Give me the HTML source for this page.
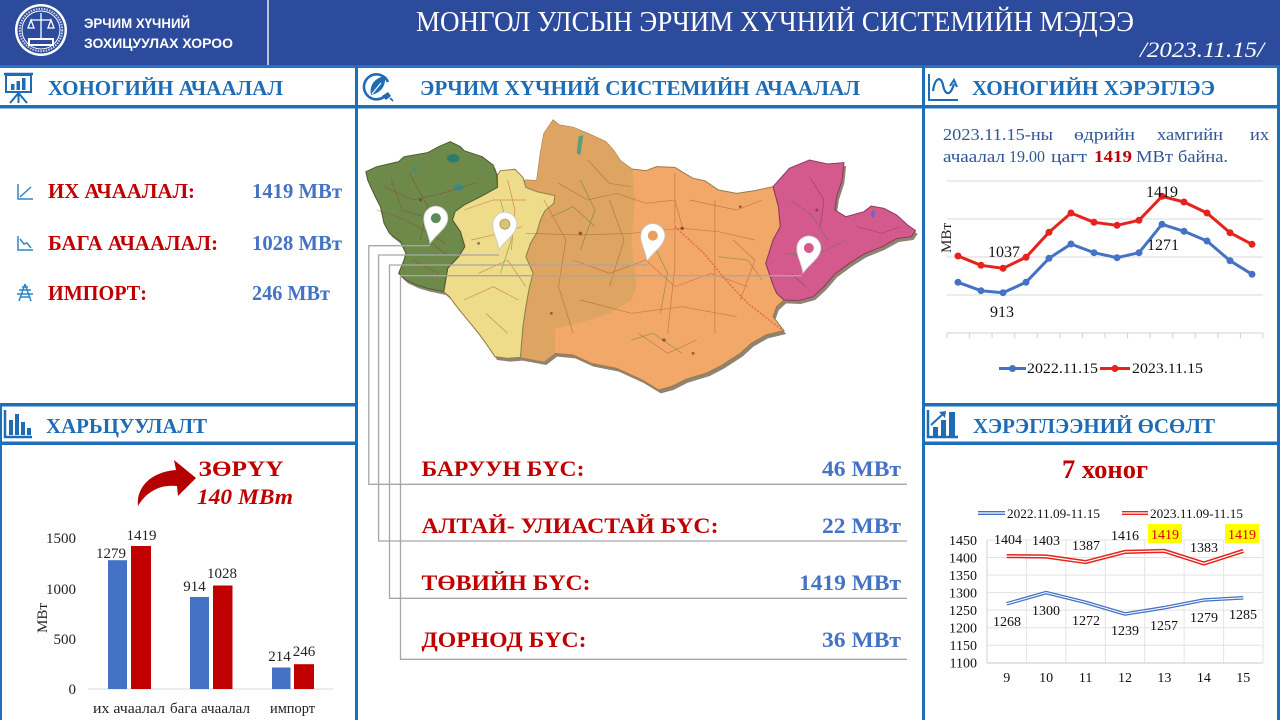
<!DOCTYPE html>
<html><head><meta charset="utf-8">
<style>
html,body{margin:0;padding:0;background:#fff;}
svg{display:block;}
text{font-family:"Liberation Serif","DejaVu Serif",serif;}
.sans{font-family:"Liberation Sans","DejaVu Sans",sans-serif;}
</style></head><body>
<svg width="1280" height="720" viewBox="0 0 1280 720" xmlns="http://www.w3.org/2000/svg">
<rect width="1280" height="720" fill="#ffffff"/>

<!-- HEADER -->
<rect x="0" y="0" width="1280" height="65" fill="#2D4B9D"/>
<rect x="0" y="65" width="1280" height="3" fill="#2C72C2"/>
<line x1="268" y1="0" x2="268" y2="65" stroke="#E6EAF4" stroke-width="1.5"/>
<!-- logo -->
<circle cx="41" cy="30" r="26" fill="#ffffff"/>
<circle cx="41" cy="30" r="23.5" fill="#2D4B9D"/>
<circle cx="41" cy="30" r="19" fill="none" stroke="#ffffff" stroke-width="1"/>
<circle cx="41" cy="30" r="21.2" fill="none" stroke="#cfd6ea" stroke-width="2" stroke-dasharray="1.5 1.2"/>
<g stroke="#ffffff" stroke-width="1.3" fill="none">
<line x1="41" y1="13" x2="41" y2="40"/>
<line x1="31" y1="20" x2="51" y2="20"/>
<path d="M31,20 L28,28 L34,28 Z M51,20 L48,28 L54,28 Z"/>
</g>
<rect x="28" y="38" width="26" height="8" fill="#ffffff"/>
<rect x="30" y="40" width="22" height="4" fill="#2D4B9D"/>
<text class="sans" x="84" y="28" font-size="14" font-weight="bold" fill="#fff" textLength="106" lengthAdjust="spacingAndGlyphs">ЭРЧИМ ХҮЧНИЙ</text>
<text class="sans" x="84" y="48" font-size="14" font-weight="bold" fill="#fff" textLength="149" lengthAdjust="spacingAndGlyphs">ЗОХИЦУУЛАХ ХОРОО</text>
<text x="416" y="31" font-size="28" fill="#fff" textLength="718" lengthAdjust="spacingAndGlyphs">МОНГОЛ УЛСЫН ЭРЧИМ ХҮЧНИЙ СИСТЕМИЙН МЭДЭЭ</text>
<text x="1140" y="57" font-size="22" font-style="italic" fill="#fff" textLength="124" lengthAdjust="spacingAndGlyphs">/2023.11.15/</text>

<!-- FRAME LINES -->
<rect x="0" y="105" width="1280" height="3.5" fill="#1E6FBA"/>
<rect x="355" y="65" width="3" height="655" fill="#1E6FBA"/>
<rect x="922" y="65" width="3" height="655" fill="#1E6FBA"/>
<rect x="1277" y="65" width="3" height="655" fill="#1E6FBA"/>
<rect x="0" y="403" width="357" height="3.5" fill="#1E6FBA"/>
<rect x="0" y="441.5" width="357" height="3.5" fill="#1E6FBA"/>
<rect x="922" y="403" width="358" height="3.5" fill="#1E6FBA"/>
<rect x="922" y="441.5" width="358" height="3.5" fill="#1E6FBA"/>
<rect x="0" y="403" width="2" height="317" fill="#1E6FBA"/>

<!-- SECTION TITLES -->
<g font-weight="bold" fill="#1E6CB5" font-size="21">
<text x="48" y="95" textLength="235" lengthAdjust="spacingAndGlyphs">ХОНОГИЙН  АЧААЛАЛ</text>
<text x="420" y="95" textLength="440" lengthAdjust="spacingAndGlyphs">ЭРЧИМ ХҮЧНИЙ  СИСТЕМИЙН  АЧААЛАЛ</text>
<text x="972" y="95" textLength="243" lengthAdjust="spacingAndGlyphs">ХОНОГИЙН  ХЭРЭГЛЭЭ</text>
<text x="46" y="433" textLength="161" lengthAdjust="spacingAndGlyphs">ХАРЬЦУУЛАЛТ</text>
<text x="973" y="433" textLength="242" lengthAdjust="spacingAndGlyphs">ХЭРЭГЛЭЭНИЙ ӨСӨЛТ</text>
</g>

<!-- ICONS in headers -->
<g stroke="#1E6CB5" fill="none" stroke-width="2">
<rect x="6" y="75" width="25" height="17"/>
<line x1="4" y1="74" x2="33" y2="74" stroke-width="2.5"/>
<line x1="18.5" y1="92" x2="18.5" y2="103"/>
<line x1="18.5" y1="93" x2="10" y2="103"/>
<line x1="18.5" y1="93" x2="27" y2="103"/>
</g>
<g fill="#1E6CB5">
<rect x="11" y="84" width="3.5" height="6"/><rect x="16.5" y="81" width="3.5" height="9"/><rect x="22" y="78" width="3.5" height="12"/>
</g>
<!-- middle icon -->
<g stroke="#1E6CB5" fill="none" stroke-width="2.6">
<path d="M385,96 A12.5,12.5 0 1 1 388,82"/>
</g>
<path d="M371,95 C369,86 374,78 385,76 C386,86 381,93 371,95 Z" fill="#1E6CB5"/>
<path d="M372,94 L381,83" stroke="#fff" stroke-width="1.2"/>
<path d="M382,96 L388,92 L391,96 L386,100 Z" fill="#1E6CB5"/>
<line x1="390" y1="98" x2="393" y2="101" stroke="#1E6CB5" stroke-width="1.6"/>
<!-- right icon -->
<path d="M929,74 V100 H958" stroke="#1E6CB5" stroke-width="2" fill="none"/>
<path d="M933,91 C935,77 941,76 943,85 C945,95 950,97 954,84" stroke="#1E6CB5" stroke-width="2.2" fill="none"/>
<path d="M950,86 L954,80 L957,87" stroke="#1E6CB5" stroke-width="2" fill="none"/>
<!-- lower-left icon -->
<path d="M5,410 V437 H32" stroke="#1E6CB5" stroke-width="2.5" fill="none"/>
<g fill="#1E6CB5"><rect x="9" y="420" width="4" height="15"/><rect x="15" y="414" width="4" height="21"/><rect x="21" y="422" width="4" height="13"/><rect x="27" y="428" width="4" height="7"/></g>
<!-- lower-right icon -->
<path d="M928,410 V437 H958" stroke="#1E6CB5" stroke-width="2.5" fill="none"/>
<g fill="#1E6CB5"><rect x="933" y="427" width="5" height="9"/><rect x="941" y="420" width="5" height="16"/><rect x="949" y="412" width="6" height="24"/></g>
<path d="M931,425 L944,413" stroke="#1E6CB5" stroke-width="2" fill="none"/>
<path d="M939,412 L946,411 L945,418 Z" fill="#1E6CB5"/>

<!-- LEFT TOP PANEL -->
<g stroke="#2E86C8" fill="none" stroke-width="1.5">
<path d="M18,184 V199 H33"/><path d="M20,197 L31,187"/>
<path d="M18,236 V250 H33"/><path d="M20,239 L24,244 L27,243 L31,248"/>
<path d="M25,284 L19,301 M25,284 L31,301 M19,290 H31 M17,294 H33 M21,297 H29 M22,287 H28"/>
</g>
<g font-weight="bold" font-size="21" fill="#C00000">
<text x="48" y="198" textLength="147" lengthAdjust="spacingAndGlyphs">ИХ АЧААЛАЛ:</text>
<text x="48" y="250" textLength="170" lengthAdjust="spacingAndGlyphs">БАГА АЧААЛАЛ:</text>
<text x="48" y="300" textLength="99" lengthAdjust="spacingAndGlyphs">ИМПОРТ:</text>
</g>
<g font-weight="bold" font-size="21" fill="#4472C4">
<text x="252" y="198" textLength="90" lengthAdjust="spacingAndGlyphs">1419 МВт</text>
<text x="252" y="250" textLength="90" lengthAdjust="spacingAndGlyphs">1028 МВт</text>
<text x="252" y="300" textLength="78" lengthAdjust="spacingAndGlyphs">246 МВт</text>
</g>

<!-- LEFT BOTTOM: bar chart -->
<path d="M138,506 C136,488 150,472 176,470 L174,460 L196,478 L178,496 L177,486 C160,484 146,492 138,506 Z" fill="#B50000"/>
<text x="241" y="476" font-size="22" font-weight="bold" fill="#C00000" text-anchor="middle" textLength="85" lengthAdjust="spacingAndGlyphs">ЗӨРҮҮ</text>
<text x="245" y="504" font-size="22" font-weight="bold" font-style="italic" fill="#C00000" text-anchor="middle" textLength="96" lengthAdjust="spacingAndGlyphs">140 МВт</text>
<g font-size="15" fill="#222" text-anchor="end">
<text x="76" y="543">1500</text>
<text x="76" y="594">1000</text>
<text x="76" y="644">500</text>
<text x="76" y="694">0</text>
</g>
<text transform="translate(47,618) rotate(-90)" font-size="15" fill="#222" text-anchor="middle">МВт</text>
<line x1="88" y1="689" x2="333" y2="689" stroke="#D9D9D9" stroke-width="1"/>
<g fill="#4472C4">
<rect x="108" y="560.2" width="19" height="128.8"/>
<rect x="190" y="597" width="19" height="92"/>
<rect x="272" y="667.5" width="18.5" height="21.5"/>
</g>
<g fill="#C00000">
<rect x="131" y="546" width="20" height="143"/>
<rect x="213" y="585.5" width="19.5" height="103.5"/>
<rect x="294" y="664.2" width="20" height="24.8"/>
</g>
<g font-size="15" fill="#222" text-anchor="middle">
<text x="111" y="558">1279</text>
<text x="141.5" y="540">1419</text>
<text x="194.5" y="591">914</text>
<text x="222" y="578">1028</text>
<text x="279.5" y="661">214</text>
<text x="304" y="656">246</text>
<text x="129" y="713" textLength="72" lengthAdjust="spacingAndGlyphs">их  ачаалал</text>
<text x="210" y="713" textLength="80" lengthAdjust="spacingAndGlyphs">бага ачаалал</text>
<text x="292.5" y="713" textLength="45" lengthAdjust="spacingAndGlyphs">импорт</text>
</g>

<!-- MAP -->
<svg x="355" y="100" width="570" height="310" viewBox="0 0 1568 930" preserveAspectRatio="none">
<g transform="translate(6,10)" fill="#6B5A42" opacity="0.75">
<polygon points="30,215 60,200 120,185 135,170 200,158 230,140 262,125 290,140 300,152 350,170 380,195 390,225 400,212 440,208 462,232 470,240 500,242 510,160 520,100 545,60 562,75 600,82 640,100 690,125 712,152 730,182 762,207 800,212 830,200 880,202 902,217 930,235 962,242 1000,270 1050,280 1100,272 1150,260 1195,205 1250,180 1300,192 1345,188 1340,240 1325,290 1320,330 1350,350 1400,335 1420,318 1455,325 1490,345 1520,375 1542,392 1530,410 1490,416 1450,440 1400,462 1360,490 1320,522 1290,560 1260,590 1220,602 1180,600 1160,620 1150,650 1180,692 1130,705 1090,730 1060,760 1010,795 970,818 910,838 870,860 835,870 790,840 720,805 650,790 600,765 550,760 520,785 455,772 420,775 385,770 360,730 340,700 310,660 280,620 260,590 244,575 200,565 170,555 140,540 120,520 135,480 140,460 125,425 95,400 80,370 70,320 58,295 45,265 35,240"/>
</g>
<polygon fill="#F2A868" stroke="#9C7A4E" stroke-width="3" points="455,255 470,240 500,242 510,160 520,100 545,60 562,75 600,82 640,100 690,125 712,152 730,182 762,207 800,212 830,200 880,202 902,217 930,235 962,242 1000,270 1050,280 1100,272 1150,260 1165,320 1170,380 1150,420 1130,490 1150,555 1160,580 1180,600 1160,620 1150,650 1180,692 1130,705 1090,730 1060,760 1010,795 970,818 910,838 870,860 835,870 790,840 720,805 650,790 600,765 550,760 520,785 455,772 462,680 470,620 480,560 490,520 470,470 482,432 500,398 510,360 522,333 547,310 550,287 500,275 470,262"/>
<polygon fill="#DDA462" points="455,255 470,240 500,242 510,160 520,100 545,60 562,75 600,82 640,100 690,125 712,152 730,182 762,207 770,300 760,430 775,560 760,600 700,640 620,668 550,685 550,760 520,785 455,772 462,680 470,620 480,560 490,520 470,470 482,432 500,398 510,360 522,333 547,310 550,287 500,275 470,262"/>
<polygon fill="#EEDC8A" stroke="#8E8350" stroke-width="3" points="392,225 400,212 440,208 462,232 470,262 500,275 550,287 547,310 522,333 510,360 500,398 482,432 470,470 490,520 480,560 470,620 462,680 455,772 420,775 385,770 360,730 340,700 310,660 280,620 260,590 244,575 255,505 285,470 302,440 290,395 268,360 275,335 300,315 345,290 392,262"/>
<polygon fill="#6E8A4B" stroke="#4C5E33" stroke-width="3" points="30,215 60,200 120,185 135,170 200,158 230,140 262,125 290,140 300,152 350,170 380,195 390,225 392,262 345,290 300,315 275,335 268,360 290,395 302,440 285,470 255,505 244,575 200,565 170,555 140,540 120,520 135,480 140,460 125,425 95,400 80,370 70,320 58,295 45,265 35,240"/>
<polygon fill="#D45A8E" stroke="#8E3A5E" stroke-width="3" points="1150,260 1195,205 1250,180 1300,192 1345,188 1340,240 1325,290 1320,330 1350,350 1400,335 1420,318 1455,325 1490,345 1520,375 1542,392 1530,410 1490,416 1450,440 1400,462 1360,490 1320,522 1290,560 1260,590 1220,602 1180,600 1160,580 1150,555 1130,490 1150,420 1170,380 1165,320"/>
<!-- lakes -->
<ellipse cx="270" cy="175" rx="17" ry="13" fill="#2F7B6A"/>
<ellipse cx="285" cy="262" rx="13" ry="10" fill="#3B8E86"/>
<ellipse cx="165" cy="210" rx="8" ry="5" fill="#3B8E86"/>
<path d="M615,110 L628,105 L620,165 L610,160 Z" fill="#5E9C7E"/>
<ellipse cx="1425" cy="342" rx="6" ry="10" fill="#6A6AC0"/>
<!-- roads texture -->
<g fill="none" stroke-width="2" opacity="0.55">
<path d="M80,260 L160,300 L240,280 L330,250 M150,220 L200,320 L180,420 M60,330 L140,360 L250,430 M100,240 L130,330 L220,360 M200,420 L260,470 M160,480 L230,520" stroke="#8B3A2A"/>
<path d="M300,330 L380,300 L470,300 M320,420 L400,400 L460,380 M340,520 L420,480 L470,560 M300,600 L380,560 L450,600 M420,240 L440,330 L430,450 M360,640 L420,700" stroke="#B24A2A"/>
<path d="M470,400 L620,405 L760,400 L900,385 L1000,395 L1100,420 M560,250 L640,300 L720,280 L800,310 L880,300 L900,380 M600,480 L700,520 L800,480 L880,560 L980,520 L1080,560 M700,300 L740,420 L700,560 M880,220 L880,500 L860,700 M990,300 L990,700 M620,600 L760,640 L900,620 L1050,650 M520,300 L580,420 L560,560 L600,700 M640,180 L700,250 L760,260 M920,300 L1050,330 L1120,300 M780,700 L860,760 L940,720 M1040,420 L1100,480 L1060,600" stroke="#A8512E"/>
<path d="M880,380 L960,460 L1020,540 L1080,610 L1175,690" stroke="#D83A20" stroke-width="4" stroke-dasharray="6 4"/>
<path d="M540,350 L600,320 L660,380 M760,720 L820,700 L900,760 M1200,300 L1260,350 L1300,420 M1180,460 L1260,470 L1350,420 M400,300 L430,420 L400,520 M620,240 L660,330 L620,450 M820,430 L860,520 L840,640 M1000,470 L1080,480 L1120,540" stroke="#3F7A3A"/>
<path d="M1250,230 L1290,300 L1280,380 M1380,380 L1450,400 L1500,380 M1200,520 L1240,560" stroke="#7A2A4A"/>
</g>
<g fill="#5a2a1a" opacity="0.6">
<circle cx="620" cy="400" r="5"/><circle cx="900" cy="385" r="5"/><circle cx="850" cy="720" r="5"/><circle cx="1060" cy="320" r="4"/><circle cx="1270" cy="330" r="4"/><circle cx="340" cy="430" r="4"/><circle cx="180" cy="300" r="4"/><circle cx="540" cy="640" r="4"/><circle cx="930" cy="760" r="4"/>
</g>
</svg>

<!-- connector lines -->
<g fill="none" stroke="#A6A6A6" stroke-width="1.3">
<path d="M430,245.7 H368.8 V484.3 H907"/>
<path d="M499,255 H378.6 V541 H907"/>
<path d="M647,265 H389.5 V598.3 H907"/>
<path d="M802,275.7 H400.5 V659.3 H907"/>
</g>

<!-- pins -->
<g stroke="#C8C8C8" stroke-width="0.8">
<g transform="rotate(13,430,243.5)">
<path d="M430,243.5 C426,233 418,226.5 418,217.5 A12,12 0 1 1 442,217.5 C442,226.5 434,233 430,243.5 Z" fill="#FFFFFF"/>
<circle cx="430" cy="217.5" r="5" fill="#5E8A5A" stroke="none"/>
</g>
<g transform="rotate(13,499,249.5)">
<path d="M499,249.5 C495,239 487,232.5 487,223.5 A12,12 0 1 1 511,223.5 C511,232.5 503,239 499,249.5 Z" fill="#FFFFFF"/>
<circle cx="499" cy="223.5" r="5" fill="#D9C27A" stroke="#A89050"/>
</g>
<g transform="rotate(13,647,261)">
<path d="M647,261 C643,250.5 635,244 635,235 A12,12 0 1 1 659,235 C659,244 651,250.5 647,261 Z" fill="#FFFFFF"/>
<circle cx="647" cy="235" r="5" fill="#E9A05E" stroke="none"/>
</g>
<g transform="rotate(13,803,273.3)">
<path d="M803,273.3 C799,262.8 791,256.3 791,247.3 A12,12 0 1 1 815,247.3 C815,256.3 807,262.8 803,273.3 Z" fill="#FFFFFF"/>
<circle cx="803" cy="247.3" r="5" fill="#D45A8E" stroke="none"/>
</g>
</g>

<!-- list -->
<g font-weight="bold" font-size="22" fill="#C00000">
<text x="421.5" y="476" textLength="163" lengthAdjust="spacingAndGlyphs">БАРУУН БҮС:</text>
<text x="421.5" y="533" textLength="297" lengthAdjust="spacingAndGlyphs">АЛТАЙ- УЛИАСТАЙ БҮС:</text>
<text x="421.5" y="590" textLength="169" lengthAdjust="spacingAndGlyphs">ТӨВИЙН БҮС:</text>
<text x="421.5" y="647" textLength="165" lengthAdjust="spacingAndGlyphs">ДОРНОД БҮС:</text>
</g>
<g font-weight="bold" font-size="22" fill="#4472C4" text-anchor="end">
<text x="901" y="476" textLength="79" lengthAdjust="spacingAndGlyphs">46 МВт</text>
<text x="901" y="533" textLength="79" lengthAdjust="spacingAndGlyphs">22 МВт</text>
<text x="901" y="590" textLength="102" lengthAdjust="spacingAndGlyphs">1419 МВт</text>
<text x="901" y="647" textLength="79" lengthAdjust="spacingAndGlyphs">36 МВт</text>
</g>

<!-- RIGHT TOP -->
<g font-size="17" fill="#2F5597">
<text x="943" y="140" textLength="110" lengthAdjust="spacingAndGlyphs">2023.11.15-ны</text>
<text x="1074" y="140" textLength="61" lengthAdjust="spacingAndGlyphs">өдрийн</text>
<text x="1157" y="140" textLength="66" lengthAdjust="spacingAndGlyphs">хамгийн</text>
<text x="1250" y="140" textLength="19" lengthAdjust="spacingAndGlyphs">их</text>
<text x="943" y="162" textLength="62" lengthAdjust="spacingAndGlyphs">ачаалал</text>
<text x="1009" y="162" textLength="36" lengthAdjust="spacingAndGlyphs">19.00</text>
<text x="1051" y="162" textLength="36" lengthAdjust="spacingAndGlyphs">цагт</text>
<text x="1094" y="162" textLength="38" lengthAdjust="spacingAndGlyphs" font-weight="bold" fill="#C00000">1419</text>
<text x="1136" y="162" textLength="37" lengthAdjust="spacingAndGlyphs">МВт</text>
<text x="1178" y="162" textLength="50" lengthAdjust="spacingAndGlyphs">байна.</text>
</g>
<g stroke="#D9D9D9" stroke-width="1">
<line x1="947" y1="181" x2="1263" y2="181"/>
<line x1="947" y1="219" x2="1263" y2="219"/>
<line x1="947" y1="257" x2="1263" y2="257"/>
<line x1="947" y1="295" x2="1263" y2="295"/>
</g>
<line x1="947" y1="333" x2="1263" y2="333" stroke="#D0D0D0" stroke-width="1"/>
<g stroke="#D0D0D0" stroke-width="1">
<line x1="947" y1="333" x2="947" y2="338"/><line x1="969.6" y1="333" x2="969.6" y2="338"/><line x1="992.1" y1="333" x2="992.1" y2="338"/><line x1="1014.7" y1="333" x2="1014.7" y2="338"/><line x1="1037.3" y1="333" x2="1037.3" y2="338"/><line x1="1059.9" y1="333" x2="1059.9" y2="338"/><line x1="1082.4" y1="333" x2="1082.4" y2="338"/><line x1="1105" y1="333" x2="1105" y2="338"/><line x1="1127.6" y1="333" x2="1127.6" y2="338"/><line x1="1150.1" y1="333" x2="1150.1" y2="338"/><line x1="1172.7" y1="333" x2="1172.7" y2="338"/><line x1="1195.3" y1="333" x2="1195.3" y2="338"/><line x1="1217.9" y1="333" x2="1217.9" y2="338"/><line x1="1240.4" y1="333" x2="1240.4" y2="338"/><line x1="1263" y1="333" x2="1263" y2="338"/>
</g>
<text transform="translate(951,238) rotate(-90)" font-size="15" fill="#222" text-anchor="middle">МВт</text>
<polyline fill="none" stroke="#4472C4" stroke-width="3" stroke-linejoin="round" points="958,282.3 981,290.7 1003,292.7 1026,282.3 1049,258.3 1071,244 1094,252.7 1117,257.7 1139,252.7 1162,224.3 1184,231.3 1207,241 1230,260.7 1252,274.3"/>
<g fill="#4472C4">
<circle cx="958" cy="282.3" r="3.5"/><circle cx="981" cy="290.7" r="3.5"/><circle cx="1003" cy="292.7" r="3.5"/><circle cx="1026" cy="282.3" r="3.5"/><circle cx="1049" cy="258.3" r="3.5"/><circle cx="1071" cy="244" r="3.5"/><circle cx="1094" cy="252.7" r="3.5"/><circle cx="1117" cy="257.7" r="3.5"/><circle cx="1139" cy="252.7" r="3.5"/><circle cx="1162" cy="224.3" r="3.5"/><circle cx="1184" cy="231.3" r="3.5"/><circle cx="1207" cy="241" r="3.5"/><circle cx="1230" cy="260.7" r="3.5"/><circle cx="1252" cy="274.3" r="3.5"/>
</g>
<polyline fill="none" stroke="#E5221C" stroke-width="3" stroke-linejoin="round" points="958,256 981,265.3 1003,268.3 1026,257.3 1049,232.3 1071,213 1094,222.3 1117,225.3 1139,220.3 1162,196.3 1184,202 1207,213 1230,232.7 1252,244.3"/>
<g fill="#E5221C">
<circle cx="958" cy="256" r="3.5"/><circle cx="981" cy="265.3" r="3.5"/><circle cx="1003" cy="268.3" r="3.5"/><circle cx="1026" cy="257.3" r="3.5"/><circle cx="1049" cy="232.3" r="3.5"/><circle cx="1071" cy="213" r="3.5"/><circle cx="1094" cy="222.3" r="3.5"/><circle cx="1117" cy="225.3" r="3.5"/><circle cx="1139" cy="220.3" r="3.5"/><circle cx="1162" cy="196.3" r="3.5"/><circle cx="1184" cy="202" r="3.5"/><circle cx="1207" cy="213" r="3.5"/><circle cx="1230" cy="232.7" r="3.5"/><circle cx="1252" cy="244.3" r="3.5"/>
</g>
<g font-size="16" fill="#111" text-anchor="middle">
<text x="1004" y="257">1037</text>
<text x="1002" y="317">913</text>
<text x="1162" y="197">1419</text>
<text x="1163" y="250">1271</text>
</g>
<line x1="999" y1="368.5" x2="1026" y2="368.5" stroke="#4472C4" stroke-width="3"/>
<circle cx="1012.5" cy="368.5" r="3.5" fill="#4472C4"/>
<text x="1027" y="373" font-size="15" fill="#111" textLength="71" lengthAdjust="spacingAndGlyphs">2022.11.15</text>
<line x1="1100" y1="368.5" x2="1130" y2="368.5" stroke="#E5221C" stroke-width="3"/>
<circle cx="1115" cy="368.5" r="3.5" fill="#E5221C"/>
<text x="1132" y="373" font-size="15" fill="#111" textLength="71" lengthAdjust="spacingAndGlyphs">2023.11.15</text>

<!-- RIGHT BOTTOM -->
<text x="1105" y="478" font-size="26" font-weight="bold" fill="#C00000" text-anchor="middle" textLength="86" lengthAdjust="spacingAndGlyphs">7 хоног</text>
<line x1="978" y1="513" x2="1005" y2="513" stroke="#4472C4" stroke-width="4"/>
<line x1="978" y1="513" x2="1005" y2="513" stroke="#fff" stroke-width="1.2"/>
<text x="1007" y="518" font-size="13" fill="#111" textLength="93" lengthAdjust="spacingAndGlyphs">2022.11.09-11.15</text>
<line x1="1122" y1="513" x2="1148" y2="513" stroke="#E5221C" stroke-width="4"/>
<line x1="1122" y1="513" x2="1148" y2="513" stroke="#fff" stroke-width="1.2"/>
<text x="1150" y="518" font-size="13" fill="#111" textLength="93" lengthAdjust="spacingAndGlyphs">2023.11.09-11.15</text>
<g stroke="#E3E3E3" stroke-width="1">
<line x1="987" y1="540" x2="1263" y2="540"/>
<line x1="987" y1="557.5" x2="1263" y2="557.5"/>
<line x1="987" y1="575.1" x2="1263" y2="575.1"/>
<line x1="987" y1="592.6" x2="1263" y2="592.6"/>
<line x1="987" y1="610.1" x2="1263" y2="610.1"/>
<line x1="987" y1="627.7" x2="1263" y2="627.7"/>
<line x1="987" y1="645.2" x2="1263" y2="645.2"/>
<line x1="1026.4" y1="540" x2="1026.4" y2="663"/>
<line x1="1065.9" y1="540" x2="1065.9" y2="663"/>
<line x1="1105.3" y1="540" x2="1105.3" y2="663"/>
<line x1="1144.7" y1="540" x2="1144.7" y2="663"/>
<line x1="1184.1" y1="540" x2="1184.1" y2="663"/>
<line x1="1223.6" y1="540" x2="1223.6" y2="663"/>
<line x1="1263" y1="540" x2="1263" y2="663"/>
</g>
<line x1="987" y1="540" x2="987" y2="663" stroke="#D0D0D0"/>
<line x1="987" y1="663" x2="1263" y2="663" stroke="#C8C8C8"/>
<g font-size="14" fill="#111" text-anchor="end">
<text x="977" y="545">1450</text>
<text x="977" y="562.5">1400</text>
<text x="977" y="580">1350</text>
<text x="977" y="597.5">1300</text>
<text x="977" y="615">1250</text>
<text x="977" y="632.5">1200</text>
<text x="977" y="650">1150</text>
<text x="977" y="667.5">1100</text>
</g>
<g font-size="14" fill="#111" text-anchor="middle">
<text x="1006.7" y="682">9</text>
<text x="1046.1" y="682">10</text>
<text x="1085.6" y="682">11</text>
<text x="1125" y="682">12</text>
<text x="1164.4" y="682">13</text>
<text x="1203.9" y="682">14</text>
<text x="1243.3" y="682">15</text>
</g>
<polyline fill="none" stroke="#E5221C" stroke-width="4.2" stroke-linejoin="round" points="1006.7,556.1 1046.1,556.5 1085.6,562.1 1125,551.9 1164.4,550.9 1203.9,563.5 1243.3,550.9"/>
<polyline fill="none" stroke="#fff" stroke-width="1.2" stroke-linejoin="round" points="1006.7,556.1 1046.1,556.5 1085.6,562.1 1125,551.9 1164.4,550.9 1203.9,563.5 1243.3,550.9"/>
<polyline fill="none" stroke="#4472C4" stroke-width="3.6" stroke-linejoin="round" points="1006.7,603.8 1046.1,592.6 1085.6,602.4 1125,614 1164.4,607.7 1203.9,600 1243.3,597.8"/>
<polyline fill="none" stroke="#fff" stroke-width="1.1" stroke-linejoin="round" points="1006.7,603.8 1046.1,592.6 1085.6,602.4 1125,614 1164.4,607.7 1203.9,600 1243.3,597.8"/>
<rect x="1148" y="524" width="34" height="19" fill="#FFFF00"/>
<rect x="1225" y="524" width="34" height="19" fill="#FFFF00"/>
<g font-size="14" fill="#111" text-anchor="middle">
<text x="1008" y="544">1404</text>
<text x="1046" y="545">1403</text>
<text x="1086" y="550">1387</text>
<text x="1125" y="540">1416</text>
<text x="1204" y="552">1383</text>
<text x="1007" y="626">1268</text>
<text x="1046" y="615">1300</text>
<text x="1086" y="625">1272</text>
<text x="1125" y="635">1239</text>
<text x="1164" y="630">1257</text>
<text x="1204" y="622">1279</text>
<text x="1243" y="619">1285</text>
</g>
<g font-size="14" fill="#E00000" text-anchor="middle">
<text x="1165" y="539">1419</text>
<text x="1242" y="539">1419</text>
</g>
</svg>
</body></html>
